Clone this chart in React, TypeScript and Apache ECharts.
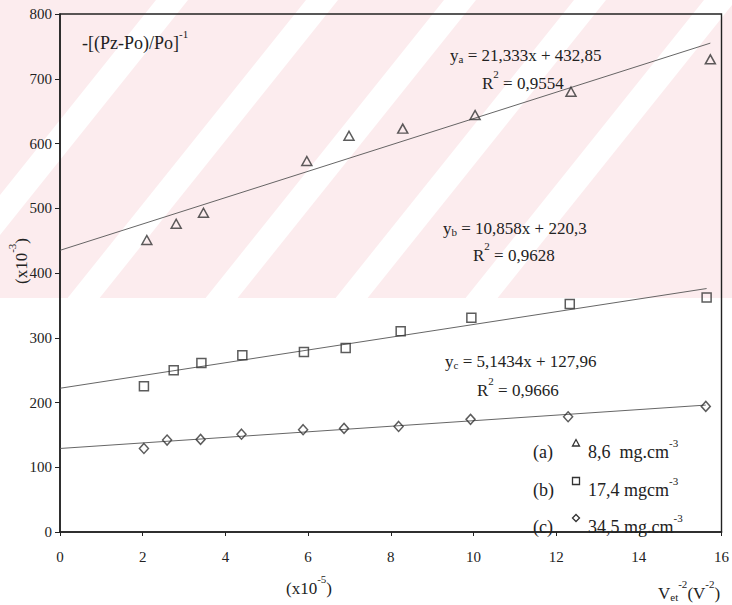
import { useEffect, useRef } from 'react';
import * as echarts from 'echarts';

// Series (a) 8,6 mg.cm-3 — triangles
const xA = [2.10, 2.81, 3.47, 5.97, 6.99, 8.29, 10.04, 12.36, 15.73];
const yA = [451, 476, 493, 573, 612, 623, 644, 680, 730];
// Series (b) 17,4 mgcm-3 — squares
const xB = [2.03, 2.75, 3.42, 4.41, 5.90, 6.91, 8.24, 9.95, 12.33, 15.64];
const yB = [225, 250, 261, 273, 278, 284, 310, 331, 352, 362];
// Series (c) 34,5 mg.cm-3 — diamonds
const xC = [2.03, 2.59, 3.40, 4.39, 5.88, 6.87, 8.19, 9.93, 12.29, 15.62];
const yC = [129, 142, 143, 151, 158, 160, 163, 174, 178, 194];

// Trend line end points as drawn
const trendA = [[0, 435], [15.73, 755]];
const trendB = [[0, 222], [15.64, 376]];
const trendC = [[0, 129], [15.62, 196]];

const eqA = ['a', ' = 21,333x + 432,85', ' = 0,9554'];
const eqB = ['b', ' = 10,858x + 220,3', ' = 0,9628'];
const eqC = ['c', ' = 5,1434x + 127,96', ' = 0,9666'];

const legendTags = ['(a)', '(b)', '(c)'];
const legendTexts = ['8,6  mg.cm', '17,4 mgcm', '34,5 mg.cm'];

const SERIF = '"Liberation Serif", "Times New Roman", serif';
const INK = '#222';

const zip = (xs: number[], ys: number[]) => xs.map((x, i) => [x, ys[i]]);

const richStyles = (main: number, small: number) => ({
  m: { fontSize: main, fontFamily: SERIF, fill: INK, lineHeight: 24, verticalAlign: 'bottom' },
  p: { fontSize: small, fontFamily: SERIF, fill: INK, verticalAlign: 'top' },
  b: { fontSize: small, fontFamily: SERIF, fill: INK, lineHeight: 15, verticalAlign: 'bottom' },
});

const rtext = (x: number, y: number, text: string, main = 17, small = 11, extra: any = {}) => ({
  type: 'text',
  x,
  y,
  z: 10,
  ...extra,
  style: {
    text,
    rich: richStyles(main, small),
    verticalAlign: 'middle',
    align: 'left',
  },
});

export default function App() {
  const ref = useRef<HTMLDivElement>(null);
  useEffect(() => {
    document.body.style.margin = '0';
    const chart = echarts.init(ref.current!, null, { renderer: 'svg' });

    const pink = '#fcecee';
    const stripeXs = [12, 162, 300, 430, 560];
    const stripes = stripeXs.map((sx) => {
      const w = 32;
      const topY = 0, botY = 298;
      const xTop = sx + 0.8 * 180;
      const xBot = sx - 0.8 * (botY - 180);
      return {
        type: 'polygon',
        z: -9,
        silent: true,
        shape: { points: [[xTop, topY], [xTop + w, topY], [xBot + w, botY], [xBot, botY]] },
        style: { fill: '#ffffff' },
      };
    });

    const eqBlock = (eq: string[], x: number, y: number, rx: number, ry: number) => [
      rtext(x, y, `{m|y}{b|${eq[0]}}{m|${eq[1]}}`),
      rtext(rx, ry, `{m|R}{p|2}{m|${eq[2]}}`),
    ];

    const symStyle = { fill: 'none', stroke: '#333', lineWidth: 1.3 };
    const lx = 576;
    const ly = [443, 481, 518];

    const option: any = {
      animation: false,
      backgroundColor: '#ffffff',
      grid: {
        left: 60,
        top: 14,
        right: 8,
        bottom: 73,
        show: true,
        borderColor: INK,
        borderWidth: 1.4,
        backgroundColor: 'transparent',
      },
      xAxis: {
        type: 'value',
        min: 0,
        max: 16,
        interval: 2,
        axisLine: { lineStyle: { color: INK, width: 1.6 } },
        axisTick: { show: true, length: 4, lineStyle: { color: INK } },
        axisLabel: { color: INK, fontFamily: SERIF, fontSize: 15, margin: 17 },
        splitLine: { show: false },
      },
      yAxis: {
        type: 'value',
        min: 0,
        max: 800,
        interval: 100,
        axisLine: { show: true, lineStyle: { color: INK, width: 1.6 } },
        axisTick: { show: true, length: 5, lineStyle: { color: INK } },
        axisLabel: { color: INK, fontFamily: SERIF, fontSize: 15, margin: 8 },
        splitLine: { show: false },
      },
      series: [
        {
          type: 'line', data: trendA, showSymbol: false, symbol: 'none',
          lineStyle: { color: '#555', width: 0.9 }, z: 2,
        },
        {
          type: 'line', data: trendB, showSymbol: false, symbol: 'none',
          lineStyle: { color: '#555', width: 0.9 }, z: 2,
        },
        {
          type: 'line', data: trendC, showSymbol: false, symbol: 'none',
          lineStyle: { color: '#555', width: 0.9 }, z: 2,
        },
        {
          type: 'scatter', data: zip(xA, yA), symbol: 'triangle', symbolSize: [10, 9],
          itemStyle: { color: 'rgba(0,0,0,0)', borderColor: '#333', borderWidth: 1.5 }, z: 3,
        },
        {
          type: 'scatter', data: zip(xB, yB), symbol: 'rect', symbolSize: 9,
          itemStyle: { color: 'rgba(0,0,0,0)', borderColor: '#333', borderWidth: 1.5 }, z: 3,
        },
        {
          type: 'scatter', data: zip(xC, yC), symbol: 'diamond', symbolSize: [9, 10],
          itemStyle: { color: 'rgba(0,0,0,0)', borderColor: '#333', borderWidth: 1.5 }, z: 3,
        },
      ],
      graphic: [
        { type: 'rect', z: -10, silent: true, shape: { x: 0, y: 0, width: 732, height: 298 }, style: { fill: pink } },
        ...stripes,
        rtext(82, 40, '{m|-[(Pz-Po)/Po]}{p|-1}', 18, 11),
        rtext(18, 284, '{m|(x10}{p|-3}{m|)}', 17, 11, { rotation: Math.PI / 2 }),
        rtext(286, 585, '{m|(x10}{p|-5}{m|)}', 17, 11),
        rtext(658, 590, '{m|V}{b|et}{p|-2}{m|(V}{p|-2}{m|)}', 17, 11),
        ...eqBlock(eqA, 450, 52, 482, 80),
        ...eqBlock(eqB, 443, 225, 473, 252),
        ...eqBlock(eqC, 445, 358, 477, 387),
        ...legendTags.map((t, i) => rtext(533, ly[i] + 6, `{m|${t}}`, 18, 11)),
        ...legendTexts.map((t, i) => rtext(588, ly[i] + 6, `{m|${t}}{p|-3}`, 18, 11)),
        {
          type: 'polygon', z: 10,
          shape: { points: [[lx - 3.5, ly[0] + 3], [lx + 3.5, ly[0] + 3], [lx, ly[0] - 3.5]] },
          style: symStyle,
        },
        { type: 'rect', z: 10, shape: { x: lx - 3.5, y: ly[1] - 3.5, width: 7, height: 7 }, style: symStyle },
        {
          type: 'polygon', z: 10,
          shape: { points: [[lx, ly[2] - 3.5], [lx + 3.5, ly[2]], [lx, ly[2] + 3.5], [lx - 3.5, ly[2]]] },
          style: symStyle,
        },
      ],
    };

    chart.setOption(option);
    return () => chart.dispose();
  }, []);
  return <div ref={ref} style={{ width: 732, height: 605, background: '#fff' }} />;
}
